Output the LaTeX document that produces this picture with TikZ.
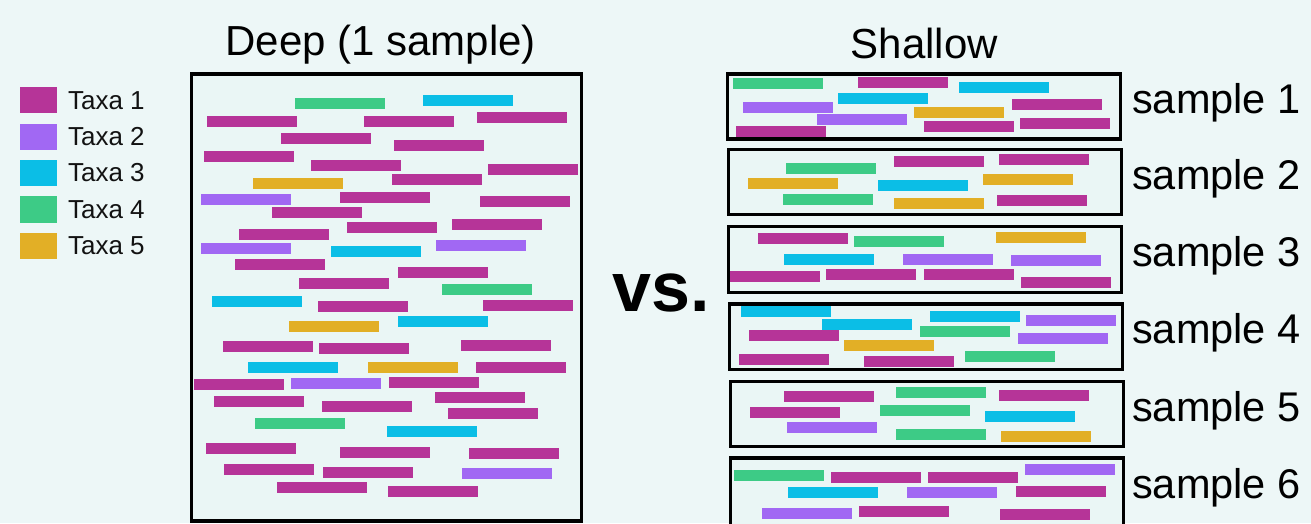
\documentclass[tikz,border=0pt]{standalone}
\usepackage{fontspec}
\setmainfont{Liberation Sans}
\usetikzlibrary{positioning}

\definecolor{taxa1}{HTML}{B63498}
\definecolor{taxa2}{HTML}{A168F3}
\definecolor{taxa3}{HTML}{0BBEE6}
\definecolor{taxa4}{HTML}{3DCB86}
\definecolor{taxa5}{HTML}{E2AF26}
\definecolor{bgcol}{HTML}{EDF7F7}
\definecolor{boxcol}{HTML}{EAF6F5}

\begin{document}
\begin{tikzpicture}[x=1pt, y=-1pt,
    panel/.style = {draw=black, line width=3.3pt, fill=boxcol,
      inner sep=0pt, outer sep=0pt},
    swatch/.style = {minimum width=36.7pt, minimum height=26.3pt,
      inner sep=0pt},
    keylabel/.style = {font=\fontsize{26}{30}\selectfont,
      text=black!93, inner sep=0pt},
    headline/.style = {font=\fontsize{42}{46}\selectfont,
      inner sep=0pt, anchor=base},
    samplelabel/.style = {font=\fontsize{41.5}{46}\selectfont,
      inner sep=0pt, anchor=base west},
  ]
  \fill[bgcol] (0,0) rectangle (1311,523);
  \useasboundingbox (0,0) rectangle (1311,523);

  % legend
  \foreach \i in {1,...,5}{
    \node[swatch, fill=taxa\i] (key\i) at (38.3, {100.3+36.35*(\i-1)}) {};
    \node[keylabel, right=11pt of key\i] (keytext\i) {Taxa \i};
  }

  % deep sequencing, one sample
  \node[panel, minimum width=390pt, minimum height=447pt] (deep) at (386.7,297.5) {};
  \node[headline] (deeptitle) at ([xshift=-6pt, yshift=19pt]deep.north)
    {Deep (1 sample)};
  \foreach \x/\y/\c in {295/98/4, 423/95/3, 207/116/1, 364/116/1, 477/112/1,
      281/133/1, 394/140/1, 204/151/1, 311/160/1, 488/164/1, 253/178/5,
      392/174/1, 201/194/2, 340/192/1, 480/196/1, 272/207/1, 347/222/1,
      452/219/1, 239/229/1, 201/243/2, 331/246/3, 436/240/2, 235/259/1,
      398/267/1, 299/278/1, 442/284/4, 212/296/3, 318/301/1, 483/300/1,
      289/321/5, 398/316/3, 223/341/1, 319/343/1, 461/340/1, 248/362/3,
      368/362/5, 476/362/1, 194/379/1, 291/378/2, 389/377/1, 214/396/1,
      322/401/1, 435/392/1, 448/408/1, 255/418/4, 387/426/3, 206/443/1,
      340/447/1, 469/448/1, 224/464/1, 323/467/1, 462/468/2, 277/482/1,
      388/486/1}
    \fill[taxa\c] (\x,\y) rectangle ++(90,10.7);

  % shallow sequencing, six samples
  \foreach \i/\cx/\cy/\h in {1/924.2/106.5/65, 2/925.3/182.2/65,
      3/924.8/259.7/66, 4/926.2/336.7/65.3, 5/926.8/414.2/65, 6/927.3/493/70}{
    \node[panel, minimum width=393pt, minimum height=\h pt] (s\i) at (\cx,\cy) {};
  }
  \node[headline] (shallowtitle) at ([yshift=16pt]s1.north) {Shallow};
  \foreach \i in {1,...,5}
    \node[samplelabel] (label\i) at ([yshift=-7pt]1132,0 |- s\i.center) {sample \i};
  \node[samplelabel] (label6) at (1132,498) {sample 6};

  \foreach \x/\y/\c in {733/78/4, 858/77/1, 959/82/3, 838/93/3, 743/102/2,
      1012/99/1, 914/107/5, 817/114/2, 924/121/1, 1020/118/1, 736/126/1,
      % sample 2
      786/163/4, 894/156/1, 999/154/1, 748/178/5, 878/180/3, 983/174/5,
      783/194/4, 894/198/5, 997/195/1,
      % sample 3
      758/233/1, 854/236/4, 996/232/5, 784/254/3, 903/254/2, 1011/255/2,
      730/271/1, 826/269/1, 924/269/1, 1021/277/1,
      % sample 4
      741/306/3, 930/311/3, 1026/315/2, 822/319/3, 920/326/4, 749/330/1,
      1018/333/2, 844/340/5, 739/354/1, 864/356/1, 965/351/4,
      % sample 5
      784/391/1, 896/387/4, 999/390/1, 750/407/1, 880/405/4, 985/411/3,
      787/422/2, 896/429/4, 1001/431/5,
      % sample 6
      734/470/4, 831/472/1, 928/472/1, 1025/464/2, 788/487/3, 907/487/2,
      1016/486/1, 762/508/2, 859/506/1, 1000/509/1}
    \fill[taxa\c] (\x,\y) rectangle ++(90,10.7);

  \node[font=\fontsize{70}{74}\selectfont\bfseries, inner sep=0pt, anchor=base]
    (versus) at (661,311) {vs.};
\end{tikzpicture}
\end{document}
